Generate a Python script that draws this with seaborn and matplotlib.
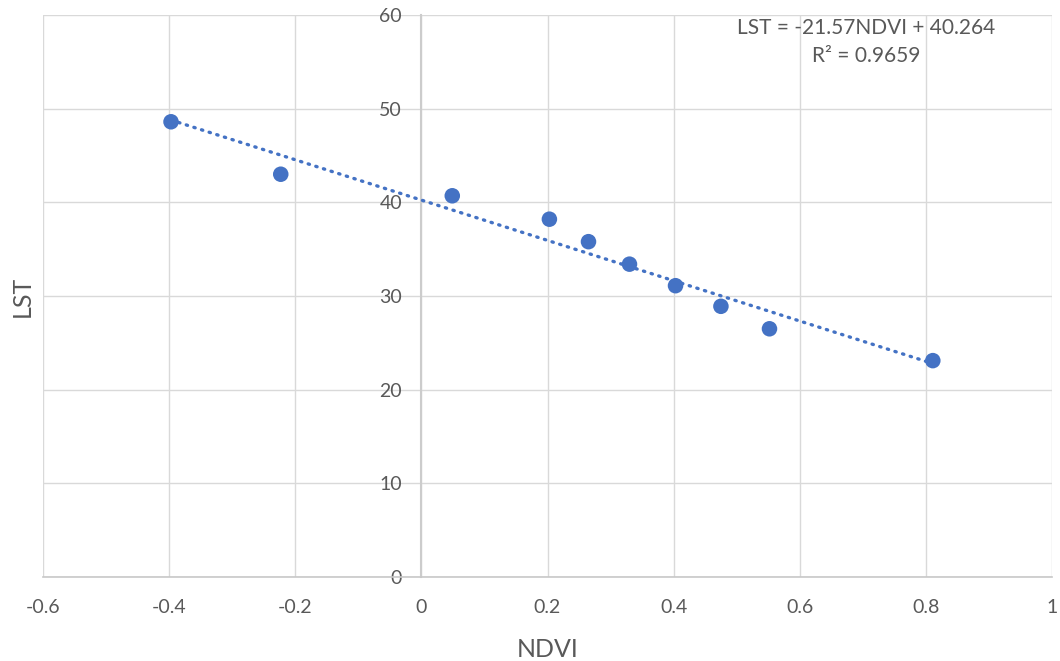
import numpy as np
import pandas as pd
import matplotlib.pyplot as plt
import seaborn as sns

# NDVI vs LST values
ndvi = [-0.397, -0.223, 0.049, 0.203, 0.265, 0.330, 0.403, 0.475, 0.552, 0.811]
lst = [48.6, 43.0, 40.7, 38.2, 35.8, 33.4, 31.1, 28.9, 26.5, 23.1]
x_ticks = [-0.6, -0.4, -0.2, 0, 0.2, 0.4, 0.6, 0.8, 1]
x_labels = ["-0.6", "-0.4", "-0.2", "0", "0.2", "0.4", "0.6", "0.8", "1"]
y_ticks = [0, 10, 20, 30, 40, 50, 60]
equation = "LST = -21.57NDVI + 40.264"
r_squared = "R\u00b2 = 0.9659"

df = pd.DataFrame({"NDVI": ndvi, "LST": lst})

sns.set_style("white")
plt.rcParams["font.family"] = ["Lato", "DejaVu Sans"]

blue = "#4472C4"
text_col = "#595959"

fig = plt.figure(figsize=(10.6, 6.61), dpi=100)
ax = fig.add_axes([43 / 1060, 1 - 577 / 661, 1009 / 1060, 562 / 661])

# scatter + dotted linear trendline
sns.regplot(data=df, x="NDVI", y="LST", ax=ax, ci=None, truncate=True,
            scatter_kws=dict(s=125, color=blue, edgecolor="none", zorder=4, alpha=1),
            line_kws=dict(color=blue, lw=2.4, ls=(0, (0.4, 2.0)),
                          dash_capstyle="round", zorder=3))

ax.set_xlim(-0.6, 1)
ax.set_ylim(0, 60)
ax.set_xticks(x_ticks)
ax.set_xticklabels(x_labels)
ax.set_yticks(y_ticks)

ax.grid(True, color="#D9D9D9", lw=1.0)
ax.set_axisbelow(True)

for s in ["top", "right"]:
    ax.spines[s].set_visible(False)
ax.spines["left"].set_position(("data", 0))
ax.spines["left"].set_color("#CCCCCC")
ax.spines["left"].set_linewidth(1.5)
ax.spines["bottom"].set_color("#C8C8C8")
ax.spines["bottom"].set_linewidth(1.2)

ax.tick_params(axis="both", length=0, labelsize=14, labelcolor=text_col)
ax.tick_params(axis="y", pad=14)
ax.tick_params(axis="x", pad=16)

ax.set_xlabel("NDVI", fontsize=18, color=text_col, labelpad=16)
ax.set_ylabel("")
fig.text(22 / 1060, 1 - 296 / 661, "LST", rotation=90, fontsize=18,
         color=text_col, ha="center", va="center")

ax.text(0.816, 0.977, equation, transform=ax.transAxes, ha="center",
        va="center", fontsize=15, color=text_col)
ax.text(0.816, 0.927, r_squared, transform=ax.transAxes, ha="center",
        va="center", fontsize=15, color=text_col)

fig.savefig("out.png", dpi=100)
